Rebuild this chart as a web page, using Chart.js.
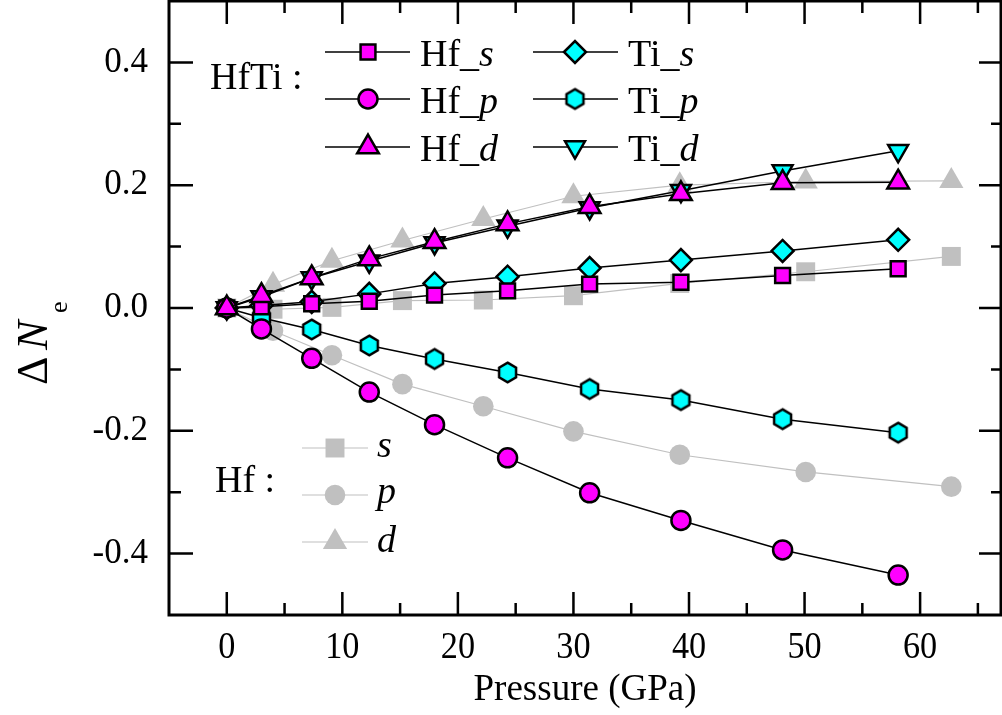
<!DOCTYPE html>
<html><head><meta charset="utf-8">
<script src="https://cdn.jsdelivr.net/npm/chart.js@4.4.1/dist/chart.umd.min.js"></script>
<style>html,body{margin:0;padding:0;background:#fff;} #c{display:block;}</style>
</head><body>
<canvas id="c" width="1002" height="715"></canvas>
<script>
// ---------- data ----------
const pressureHfTi = [0, 3.0, 7.35, 12.33, 17.98, 24.3, 31.4, 39.3, 48.1, 58.1];
const hfTi_Hf_s = [0, 0.002, 0.007, 0.011, 0.021, 0.028, 0.039, 0.042, 0.053, 0.064];
const hfTi_Hf_p = [0, -0.034, -0.082, -0.137, -0.190, -0.244, -0.301, -0.346, -0.394, -0.435];
const hfTi_Hf_d = [0, 0.020, 0.049, 0.080, 0.108, 0.137, 0.165, 0.186, 0.204, 0.205];
const hfTi_Ti_s = [0, 0.004, 0.010, 0.023, 0.040, 0.051, 0.065, 0.078, 0.093, 0.111];
const hfTi_Ti_p = [0, -0.016, -0.035, -0.061, -0.083, -0.105, -0.132, -0.150, -0.181, -0.203];
const hfTi_Ti_d = [0, 0.018, 0.049, 0.076, 0.106, 0.133, 0.163, 0.191, 0.223, 0.256];

const pressureHf = [0, 4.0, 9.1, 15.2, 22.2, 30.0, 39.2, 50.1, 62.7];
const hf_s = [0, -0.002, 0.001, 0.012, 0.013, 0.020, 0.040, 0.059, 0.084];
const hf_p = [0, -0.037, -0.077, -0.124, -0.160, -0.201, -0.239, -0.267, -0.291];
const hf_d = [0, 0.038, 0.077, 0.110, 0.145, 0.182, 0.200, 0.206, 0.207];

const xTickValues = [0, 10, 20, 30, 40, 50, 60];
const xTickLabels = ['0', '10', '20', '30', '40', '50', '60'];
const xMinorValues = [5, 15, 25, 35, 45, 55, 65];
const yTickValues = [-0.4, -0.2, 0.0, 0.2, 0.4];
const yTickLabels = ['-0.4', '-0.2', '0.0', '0.2', '0.4'];
const yMinorValues = [-0.3, -0.1, 0.1, 0.3];
const xTitle = 'Pressure (GPa)';

// ---------- styles ----------
const MAG = '#ff00ff', CYAN = '#00ffff', GRAY = '#c0c0c0';
const FONT = "'Liberation Serif', 'Times New Roman', serif";

function hexImage(R, fill, stroke, lw) {
  const s = Math.ceil(2 * R + lw + 2);
  const c = document.createElement('canvas');
  c.width = s; c.height = s;
  const g = c.getContext('2d');
  g.translate(s / 2, s / 2);
  g.beginPath();
  for (let i = 0; i < 6; i++) {
    const a = -Math.PI / 2 + i * Math.PI / 3;
    const px = R * Math.cos(a), py = R * Math.sin(a);
    if (i) g.lineTo(px, py); else g.moveTo(px, py);
  }
  g.closePath();
  g.fillStyle = fill; g.fill();
  g.lineWidth = lw; g.strokeStyle = stroke; g.stroke();
  return c;
}
const HEX = hexImage(9.8, CYAN, '#000', 2.5);

function pts(xs, ys) { return xs.map((x, i) => ({ x: x, y: ys[i] })); }

const STY = {
  Hf_s: { pointStyle: 'rect', pointRadius: 10.5, fill: MAG, rot: 0 },
  Hf_p: { pointStyle: 'circle', pointRadius: 9.5, fill: MAG, rot: 0 },
  Hf_d: { pointStyle: 'triangle', pointRadius: 12.5, fill: MAG, rot: 0 },
  Ti_s: { pointStyle: 'rectRot', pointRadius: 11, fill: CYAN, rot: 0 },
  Ti_p: { pointStyle: HEX, pointRadius: 10, fill: CYAN, rot: 0 },
  Ti_d: { pointStyle: 'triangle', pointRadius: 11.5, fill: CYAN, rot: 180 },
  s: { pointStyle: 'rect', pointRadius: 13.4, fill: GRAY, rot: 0 },
  p: { pointStyle: 'circle', pointRadius: 10.3, fill: GRAY, rot: 0 },
  d: { pointStyle: 'triangle', pointRadius: 14, fill: GRAY, rot: 0 }
};

function blackSeries(key, xs, ys) {
  const st = STY[key];
  return {
    label: key, data: pts(xs, ys), showLine: true, fill: false, tension: 0,
    borderColor: '#000', borderWidth: 1.5,
    pointStyle: st.pointStyle, pointRadius: st.pointRadius, pointHoverRadius: st.pointRadius,
    pointRotation: st.rot, pointBackgroundColor: st.fill, pointBorderColor: '#000',
    pointBorderWidth: 2.5, pointHoverBorderWidth: 2.5
  };
}
function graySeries(key, xs, ys) {
  const st = STY[key];
  return {
    label: 'Hf ' + key, data: pts(xs, ys), showLine: true, fill: false, tension: 0,
    borderColor: GRAY, borderWidth: 1.2,
    pointStyle: st.pointStyle, pointRadius: st.pointRadius, pointHoverRadius: st.pointRadius,
    pointBackgroundColor: GRAY, pointBorderColor: GRAY, pointBorderWidth: 0, pointHoverBorderWidth: 0
  };
}

// first = on top
const datasets = [
  blackSeries('Hf_d', pressureHfTi, hfTi_Hf_d),
  blackSeries('Hf_p', pressureHfTi, hfTi_Hf_p),
  blackSeries('Hf_s', pressureHfTi, hfTi_Hf_s),
  blackSeries('Ti_d', pressureHfTi, hfTi_Ti_d),
  blackSeries('Ti_p', pressureHfTi, hfTi_Ti_p),
  blackSeries('Ti_s', pressureHfTi, hfTi_Ti_s),
  graySeries('d', pressureHf, hf_d),
  graySeries('p', pressureHf, hf_p),
  graySeries('s', pressureHf, hf_s)
];

// ---------- custom legend drawing ----------
function drawMarker(ctx, key, x, y) {
  const st = STY[key];
  const r = st.pointRadius;
  if (st.pointStyle instanceof HTMLCanvasElement) {
    ctx.drawImage(st.pointStyle, x - st.pointStyle.width / 2, y - st.pointStyle.height / 2);
    return;
  }
  const gray = st.fill === GRAY;
  ctx.beginPath();
  if (st.pointStyle === 'rect') {
    const h = r * Math.SQRT1_2;
    ctx.rect(x - h, y - h, 2 * h, 2 * h);
  } else if (st.pointStyle === 'circle') {
    ctx.arc(x, y, r, 0, Math.PI * 2);
  } else if (st.pointStyle === 'rectRot') {
    ctx.moveTo(x - r, y); ctx.lineTo(x, y - r); ctx.lineTo(x + r, y); ctx.lineTo(x, y + r);
    ctx.closePath();
  } else if (st.pointStyle === 'triangle') {
    let rad = st.rot * Math.PI / 180;
    for (let i = 0; i < 3; i++) {
      const px = x + Math.sin(rad) * r, py = y - Math.cos(rad) * r;
      if (i) ctx.lineTo(px, py); else ctx.moveTo(px, py);
      rad += 2 * Math.PI / 3;
    }
    ctx.closePath();
  }
  ctx.fillStyle = st.fill; ctx.fill();
  if (!gray) { ctx.lineWidth = 2.5; ctx.strokeStyle = '#000'; ctx.stroke(); }
}

function legendEntry(ctx, key, x1, x2, mx, y, tx, baseline, prefix, ital, lineColor, lw) {
  ctx.beginPath();
  ctx.moveTo(x1, y); ctx.lineTo(x2, y);
  ctx.strokeStyle = lineColor; ctx.lineWidth = lw; ctx.stroke();
  drawMarker(ctx, key, mx, y);
  ctx.fillStyle = '#000';
  ctx.textAlign = 'left'; ctx.textBaseline = 'alphabetic';
  ctx.font = '38px ' + FONT;
  ctx.fillText(prefix, tx, baseline);
  const w = prefix ? ctx.measureText(prefix).width : 0;
  ctx.font = 'italic 38px ' + FONT;
  ctx.fillText(ital, tx + w, baseline);
}

const decor = {
  id: 'decor',
  beforeDraw(chart) {
    const ctx = chart.ctx;
    ctx.save(); ctx.fillStyle = '#fff'; ctx.fillRect(0, 0, chart.width, chart.height); ctx.restore();
  },
  afterDatasetsDraw(chart) {
    const { ctx, chartArea: a, scales: { x, y } } = chart;
    ctx.save();
    ctx.strokeStyle = '#000'; ctx.lineWidth = 2.5; ctx.lineCap = 'butt';
    ctx.beginPath();
    xTickValues.forEach(v => {
      const px = x.getPixelForValue(v);
      ctx.moveTo(px, a.bottom); ctx.lineTo(px, a.bottom - 23);
      ctx.moveTo(px, a.top); ctx.lineTo(px, a.top + 23);
    });
    xMinorValues.forEach(v => {
      const px = x.getPixelForValue(v);
      ctx.moveTo(px, a.bottom); ctx.lineTo(px, a.bottom - 12);
      ctx.moveTo(px, a.top); ctx.lineTo(px, a.top + 12);
    });
    yTickValues.forEach(v => {
      const py = y.getPixelForValue(v);
      ctx.moveTo(a.left, py); ctx.lineTo(a.left + 24, py);
      ctx.moveTo(a.right, py); ctx.lineTo(a.right - 22, py);
    });
    yMinorValues.forEach(v => {
      const py = y.getPixelForValue(v);
      ctx.moveTo(a.left, py); ctx.lineTo(a.left + 12, py);
      ctx.moveTo(a.right, py); ctx.lineTo(a.right - 10, py);
    });
    ctx.stroke();
    ctx.lineWidth = 3;
    ctx.strokeRect(a.left, a.top, a.right - a.left, a.bottom - a.top);

    // tick labels and x title (positioned by the library's scales)
    ctx.fillStyle = '#000';
    ctx.font = '38px ' + FONT;
    ctx.textAlign = 'center'; ctx.textBaseline = 'middle';
    xTickValues.forEach((v, i) => {
      ctx.save();
      ctx.translate(x.getPixelForValue(v), a.bottom + 33);
      ctx.scale(0.9, 1);
      ctx.fillText(xTickLabels[i], 0, 0);
      ctx.restore();
    });
    ctx.font = '35px ' + FONT;
    ctx.textAlign = 'right';
    yTickValues.forEach((v, i) => ctx.fillText(yTickLabels[i], a.left - 21, y.getPixelForValue(v)));
    ctx.font = '37px ' + FONT;
    ctx.textAlign = 'center'; ctx.textBaseline = 'alphabetic';
    ctx.fillText(xTitle, (a.left + a.right) / 2, 700);
    ctx.restore();
  },
  afterDraw(chart) {
    const ctx = chart.ctx;
    ctx.save();
    // HfTi legend
    ctx.fillStyle = '#000'; ctx.font = '38px ' + FONT; ctx.textBaseline = 'alphabetic'; ctx.textAlign = 'left';
    ctx.fillText('HfTi :', 210, 89);
    const rows = [52, 99, 147];
    legendEntry(ctx, 'Hf_s', 325, 410, 368, rows[0], 420, rows[0] + 14, 'Hf_', 's', '#000', 1.5);
    legendEntry(ctx, 'Hf_p', 325, 410, 368, rows[1], 420, rows[1] + 14, 'Hf_', 'p', '#000', 1.5);
    legendEntry(ctx, 'Hf_d', 325, 410, 368, rows[2], 420, rows[2] + 14, 'Hf_', 'd', '#000', 1.5);
    legendEntry(ctx, 'Ti_s', 533, 618, 575, rows[0], 628, rows[0] + 14, 'Ti_', 's', '#000', 1.5);
    legendEntry(ctx, 'Ti_p', 533, 618, 575, rows[1], 628, rows[1] + 14, 'Ti_', 'p', '#000', 1.5);
    legendEntry(ctx, 'Ti_d', 533, 618, 575, rows[2], 628, rows[2] + 14, 'Ti_', 'd', '#000', 1.5);
    // Hf legend
    ctx.fillStyle = '#000'; ctx.font = '38px ' + FONT;
    ctx.fillText('Hf :', 215, 492);
    const rows2 = [448, 495, 542];
    legendEntry(ctx, 's', 302, 368, 335, rows2[0], 377, rows2[0] + 9, '', 's', GRAY, 1.2);
    legendEntry(ctx, 'p', 302, 368, 335, rows2[1], 377, rows2[1] + 8, '', 'p', GRAY, 1.2);
    legendEntry(ctx, 'd', 302, 368, 335, rows2[2], 377, rows2[2] + 10, '', 'd', GRAY, 1.2);
    // y-axis title: Δ N_e
    ctx.translate(47, 385); ctx.rotate(-Math.PI / 2);
    ctx.fillStyle = '#000'; ctx.textAlign = 'left'; ctx.textBaseline = 'alphabetic';
    ctx.font = '44px ' + FONT; ctx.fillText('\u0394', 0, 0);
    ctx.font = 'italic 44px ' + FONT; ctx.fillText('N', 35, 0);
    ctx.font = '26px ' + FONT; ctx.fillText('e', 72, 20);
    ctx.restore();
  }
};

function noPad(s) { s.paddingTop = 0; s.paddingBottom = 0; s.paddingLeft = 0; s.paddingRight = 0; }

new Chart(document.getElementById('c'), {
  type: 'line',
  data: { datasets: datasets },
  options: {
    responsive: false, animation: false, devicePixelRatio: 1,
    layout: { autoPadding: false, padding: { top: 1, right: 1, left: 0, bottom: 0 } },
    plugins: { legend: { display: false }, tooltip: { enabled: false } },
    events: [],
    scales: {
      x: {
        type: 'linear', min: -5, max: 67,
        afterBuildTicks: s => { s.ticks = xTickValues.map(v => ({ value: v })); },
        afterFit: s => { s.height = 100; noPad(s); },
        grid: { display: false, drawTicks: false }, border: { display: false },
        ticks: { display: false }
      },
      y: {
        type: 'linear', min: -0.5, max: 0.5,
        afterBuildTicks: s => { s.ticks = yTickValues.map(v => ({ value: v })); },
        afterFit: s => { s.width = 169; noPad(s); },
        grid: { display: false, drawTicks: false }, border: { display: false },
        ticks: { display: false }
      }
    }
  },
  plugins: [decor]
});
</script>
</body></html>
